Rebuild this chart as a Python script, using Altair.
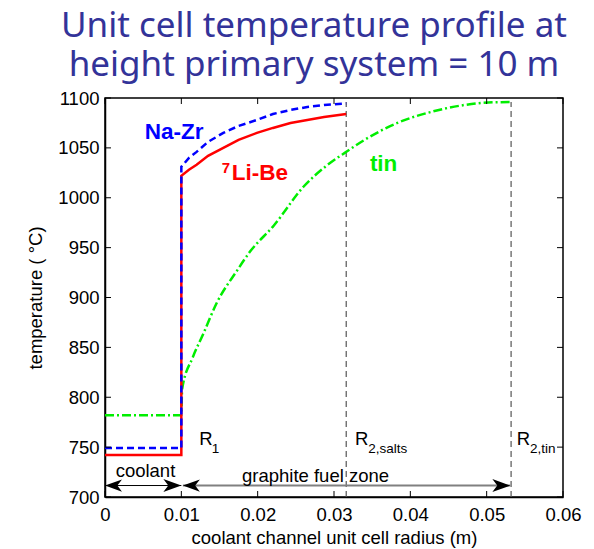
import altair as alt
import pandas as pd

# ---------------- data ----------------
r_libe = [0.0, 0.0100, 0.0100, 0.0110, 0.0120, 0.0135, 0.0155, 0.0175, 0.0199, 0.0220, 0.0243, 0.0265, 0.0287, 0.0316]
T_libe = [742, 742, 1022, 1028, 1033, 1042, 1050, 1058, 1065, 1070, 1075, 1078, 1081, 1084]

r_nazr = [0.0, 0.0100, 0.0100, 0.0110, 0.0120, 0.0135, 0.0155, 0.0175, 0.0199, 0.0220, 0.0243, 0.0265, 0.0287, 0.0316]
T_nazr = [749, 749, 1031, 1040, 1046, 1056, 1065, 1072, 1078, 1084, 1088, 1091, 1093, 1094.6]

r_tin = [0.0, 0.0100, 0.0101, 0.0115, 0.0129, 0.0146, 0.0173, 0.0190, 0.0221, 0.0260, 0.0290, 0.0316, 0.0340, 0.0383, 0.0427, 0.0471, 0.0502, 0.0532]
T_tin = [782, 782, 808, 840, 864, 894, 927, 946, 972, 1011, 1032, 1046, 1058, 1075, 1086, 1093, 1095.5, 1096]

r_bounds = [0.0316, 0.0532]          # R2,salts and R2,tin
T_bounds = [700, 1096]

x_ticks = [0, 0.01, 0.02, 0.03, 0.04, 0.05, 0.06]
y_ticks = [700, 750, 800, 850, 900, 950, 1000, 1050, 1100]

arrow_T = 711.5
coolant_span = [0.0, 0.0100]
graphite_span = [0.0102, 0.0531]

# ---------------- layout ----------------
W, H = 458, 399
FONT = "Liberation Sans"

xs = alt.Scale(domain=[0, 0.06], nice=False, zero=False)
ys = alt.Scale(domain=[700, 1100], nice=False, zero=False)

axis_style = dict(
    ticks=False, grid=False,
    labelFont=FONT, labelFontSize=18.5, labelColor="black", labelFontWeight="normal",
    titleFont=FONT, titleFontSize=18.5, titleFontWeight="normal", titleColor="black",
    domainColor="black", domainWidth=1.5,
)
xaxis = alt.Axis(values=x_ticks, format="~g", title="coolant channel unit cell radius (m)",
                 labelPadding=8, labelFlush=False, titlePadding=5, **axis_style)
yaxis = alt.Axis(values=y_ticks, format="d", title="temperature ( °C)",
                 labelPadding=6, titlePadding=12, **axis_style)

X = alt.X("r:Q", scale=xs, axis=xaxis)
Y = alt.Y("T:Q", scale=ys, axis=yaxis)


def curve(r, T):
    return pd.DataFrame({"r": r, "T": T, "i": list(range(len(r)))})


libe = alt.Chart(curve(r_libe, T_libe)).mark_line(color="#ff0000", strokeWidth=2.5).encode(
    x=X, y=Y, order="i:Q")
nazr = alt.Chart(curve(r_nazr, T_nazr)).mark_line(color="#0000ff", strokeWidth=2.5,
                                                   strokeDash=[7, 4]).encode(x=X, y=Y, order="i:Q")
tin = alt.Chart(curve(r_tin, T_tin)).mark_line(color="#00ee00", strokeWidth=2.5, interpolate="monotone",
                                               strokeDash=[9, 3, 2, 3]).encode(x=X, y=Y, order="i:Q")

bounds = alt.Chart(pd.DataFrame({"r": r_bounds, "T": [T_bounds[0]] * 2, "T2": [T_bounds[1]] * 2})).mark_rule(
    color="#555555", strokeWidth=1.2, strokeDash=[6, 4]).encode(x=X, y=Y, y2="T2:Q")

# inward ticks on all four sides (matlab box style)
xt = pd.DataFrame({"r": x_ticks})
yt = pd.DataFrame({"T": y_ticks})
tick_style = dict(color="black", strokeWidth=1)
xt_bot = alt.Chart(xt).mark_rule(**tick_style).encode(x=X, y=alt.value(H), y2=alt.value(H - 6))
xt_top = alt.Chart(xt).mark_rule(**tick_style).encode(x=X, y=alt.value(0), y2=alt.value(6))
yt_left = alt.Chart(yt).mark_rule(**tick_style).encode(y=Y, x=alt.value(0), x2=alt.value(6))
yt_right = alt.Chart(yt).mark_rule(**tick_style).encode(y=Y, x=alt.value(W), x2=alt.value(W - 6))

# arrows
cool_line = alt.Chart(pd.DataFrame({"r": [coolant_span[0]], "r2": [coolant_span[1]], "T": [arrow_T]})).mark_rule(
    color="black", strokeWidth=1).encode(x=X, x2="r2:Q", y=Y)
graph_line = alt.Chart(pd.DataFrame({"r": [graphite_span[0]], "r2": [graphite_span[1]], "T": [arrow_T]})).mark_rule(
    color="#808080", strokeWidth=2).encode(x=X, x2="r2:Q", y=Y)
LEFT_HEAD = "M0,0L2,-0.72L1.45,0L2,0.72Z"
RIGHT_HEAD = "M0,0L-2,-0.72L-1.45,0L-2,0.72Z"
heads_left = alt.Chart(pd.DataFrame({"r": [coolant_span[0], graphite_span[0]], "T": [arrow_T] * 2})).mark_point(
    shape=LEFT_HEAD, filled=True, size=289, color="black", opacity=1).encode(x=X, y=Y)
heads_right = alt.Chart(pd.DataFrame({"r": [coolant_span[1], graphite_span[1]], "T": [arrow_T] * 2})).mark_point(
    shape=RIGHT_HEAD, filled=True, size=324, color="black", opacity=1).encode(x=X, y=Y)


def label(text, r, T, size, color="black", weight="normal", align="left"):
    return alt.Chart(pd.DataFrame({"r": [r], "T": [T], "t": [text]})).mark_text(
        align=align, baseline="alphabetic", font=FONT, fontSize=size, fontWeight=weight, color=color
    ).encode(x=X, y=Y, text="t:N")


labels = [
    label("Na-Zr", 0.0052, 1059, 22.5, "#0000ff", "bold"),
    label("7", 0.0153, 1025, 15, "#ff0000", "bold"),
    label("Li-Be", 0.0166, 1017.4, 22.5, "#ff0000", "bold"),
    label("tin", 0.0347, 1027, 22.5, "#00ee00", "bold"),
    label("R", 0.01235, 752, 18.5),
    label("1", 0.01398, 744, 13.5),
    label("R", 0.03275, 752, 18.5),
    label("2,salts", 0.0345, 744, 13.5),
    label("R", 0.05394, 752, 18.5),
    label("2,tin", 0.05568, 744, 13.5),
    label("coolant", 0.0053, 720, 18.5, align="center"),
    label("graphite fuel zone", 0.02758, 715.5, 18.5, align="center"),
]

chart = alt.layer(
    bounds, tin, libe, nazr, cool_line, graph_line, heads_left, heads_right,
    xt_bot, xt_top, yt_left, yt_right, *labels
).properties(
    width=W, height=H,
    autosize=alt.AutoSizeParams(type="none"),
    padding={"left": 97, "top": 90, "right": 23, "bottom": 52},
    background="white",
    title=alt.TitleParams(
        ["Unit cell temperature profile at", "height primary system = 10 m"],
        font="Noto Sans", fontSize=35, fontWeight="normal", color="#333399",
        anchor="middle", frame="group", dx=-20, offset=6, lineHeight=39,
    ),
).configure_view(
    stroke="black", strokeWidth=1.5
)

chart.save("out.html", embed_options={"renderer": "svg", "actions": False})
